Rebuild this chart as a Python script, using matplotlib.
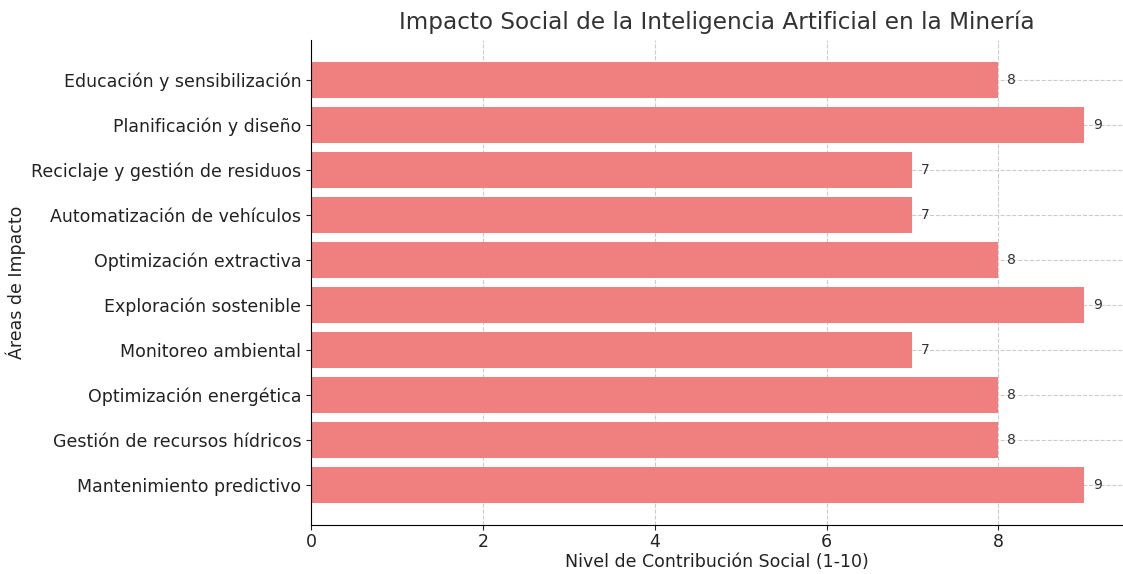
import matplotlib
matplotlib.use("Agg")
import matplotlib.pyplot as plt

plt.rcParams["font.family"] = ["DejaVu Sans"]

areas = [
    "Mantenimiento predictivo",
    "Gestión de recursos hídricos",
    "Optimización energética",
    "Monitoreo ambiental",
    "Exploración sostenible",
    "Optimización extractiva",
    "Automatización de vehículos",
    "Reciclaje y gestión de residuos",
    "Planificación y diseño",
    "Educación y sensibilización",
]
niveles = [9, 8, 8, 7, 9, 8, 7, 7, 9, 8]

fig = plt.figure(figsize=(11.23, 5.74), dpi=100)
ax = fig.add_axes([311 / 1123, 1 - 525 / 574, (1123 - 311) / 1123, (525 - 40) / 574])
bars = ax.barh(areas, niveles, color="lightcoral", height=0.8, zorder=2)
for b, v in zip(bars, niveles):
    ax.text(b.get_width() + 0.1, b.get_y() + b.get_height() / 2, str(v),
            va="center", ha="left", fontsize=10, color="#333333")

ax.grid(True, linestyle="--", color="#cccccc", linewidth=0.8, zorder=0)
ax.set_axisbelow(True)
ax.spines["top"].set_visible(False)
ax.spines["right"].set_visible(False)
ax.tick_params(axis="both", labelsize=12.5, colors="#222222")
ax.tick_params(axis="x", pad=2)
ax.set_xlabel("Nivel de Contribución Social (1-10)", fontsize=12.5, color="#222222", labelpad=2)
ax.set_ylabel("Áreas de Impacto", fontsize=12.5, color="#222222")
ax.set_title("Impacto Social de la Inteligencia Artificial en la Minería", fontsize=16.7, color="#333333", pad=8)

fig.savefig("out.png", dpi=100)
